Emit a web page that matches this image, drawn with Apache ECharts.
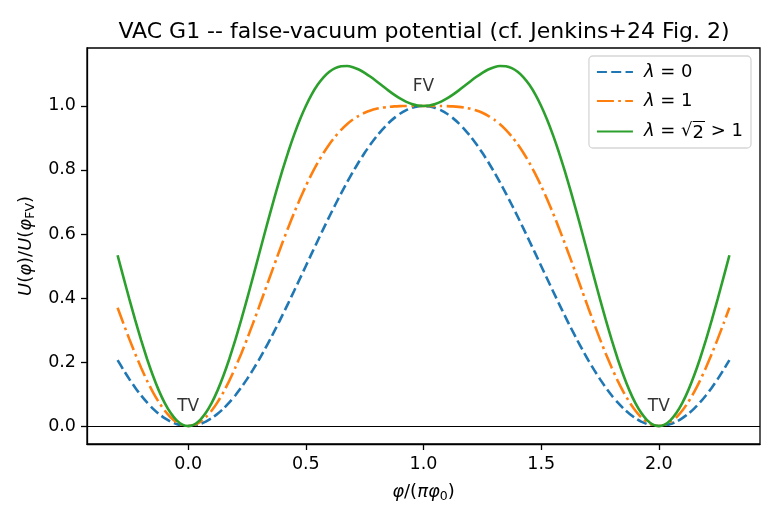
<!DOCTYPE html>
<html>
<head>
<meta charset="utf-8">
<script src="https://cdn.jsdelivr.net/npm/echarts@6/dist/echarts.min.js"></script>
<style>html,body{margin:0;padding:0;background:#fff}#c{width:780px;height:520px}</style>
</head>
<body>
<div id="c"></div>
<script>
// x = phi / (pi * phi0)
const xs = [-0.300,-0.275,-0.250,-0.225,-0.200,-0.175,-0.150,-0.125,-0.100,-0.075,-0.050,-0.025,
  0.000,0.025,0.050,0.075,0.100,0.125,0.150,0.175,0.200,0.225,0.250,0.275,0.300,0.325,0.350,0.375,0.400,0.425,0.450,0.475,
  0.500,0.525,0.550,0.575,0.600,0.625,0.650,0.675,0.700,0.725,0.750,0.775,0.800,0.825,0.850,0.875,0.900,0.925,0.950,0.975,1.000,
  1.025,1.050,1.075,1.100,1.125,1.150,1.175,1.200,1.225,1.250,1.275,1.300,1.325,1.350,1.375,1.400,1.425,1.450,1.475,1.500,
  1.525,1.550,1.575,1.600,1.625,1.650,1.675,1.700,1.725,1.750,1.775,1.800,1.825,1.850,1.875,1.900,1.925,1.950,1.975,2.000,
  2.025,2.050,2.075,2.100,2.125,2.150,2.175,2.200,2.225,2.250,2.275,2.300];
const lam0 = [0.2061,0.1753,0.1464,0.1198,0.0955,0.0737,0.0545,0.0381,0.0245,0.0138,0.0062,0.0015,
  0,0.0015,0.0062,0.0138,0.0245,0.0381,0.0545,0.0737,0.0955,0.1198,0.1464,0.1753,0.2061,0.2388,0.2730,0.3087,0.3455,0.3833,0.4218,0.4608,
  0.5,0.5392,0.5782,0.6167,0.6545,0.6913,0.7270,0.7613,0.7939,0.8247,0.8536,0.8802,0.9045,0.9263,0.9455,0.9619,0.9755,0.9862,0.9938,0.9985,1.0,
  0.9985,0.9938,0.9862,0.9755,0.9619,0.9455,0.9263,0.9045,0.8802,0.8536,0.8247,0.7939,0.7613,0.7270,0.6913,0.6545,0.6167,0.5782,0.5392,0.5,
  0.4608,0.4218,0.3833,0.3455,0.3087,0.2730,0.2388,0.2061,0.1753,0.1464,0.1198,0.0955,0.0737,0.0545,0.0381,0.0245,0.0138,0.0062,0.0015,0,
  0.0015,0.0062,0.0138,0.0245,0.0381,0.0545,0.0737,0.0955,0.1198,0.1464,0.1753,0.2061];
const lam1 = [0.3697,0.3198,0.2714,0.2253,0.1819,0.1419,0.1060,0.0747,0.0483,0.0274,0.0123,0.0031,
  0,0.0031,0.0123,0.0274,0.0483,0.0747,0.1060,0.1419,0.1819,0.2253,0.2714,0.3198,0.3697,0.4205,0.4715,0.5221,0.5716,0.6197,0.6657,0.7092,
  0.75,0.7877,0.8221,0.8531,0.8806,0.9047,0.9255,0.9430,0.9575,0.9693,0.9786,0.9857,0.9909,0.9946,0.9970,0.9986,0.9994,0.9998,1.0,1.0,1.0,
  1.0,1.0,0.9998,0.9994,0.9986,0.9970,0.9946,0.9909,0.9857,0.9786,0.9693,0.9575,0.9430,0.9255,0.9047,0.8806,0.8531,0.8221,0.7877,0.75,
  0.7092,0.6657,0.6197,0.5716,0.5221,0.4715,0.4205,0.3697,0.3198,0.2714,0.2253,0.1819,0.1419,0.1060,0.0747,0.0483,0.0274,0.0123,0.0031,0,
  0.0031,0.0123,0.0274,0.0483,0.0747,0.1060,0.1419,0.1819,0.2253,0.2714,0.3198,0.3697];
const lamR2 = [0.5334,0.4644,0.3964,0.3307,0.2682,0.2102,0.1576,0.1113,0.0722,0.0411,0.0184,0.0046,
  0,0.0046,0.0184,0.0411,0.0722,0.1113,0.1576,0.2102,0.2682,0.3307,0.3964,0.4644,0.5334,0.6023,0.6700,0.7354,0.7978,0.8560,0.9096,0.9577,
  1.0,1.0362,1.0660,1.0895,1.1068,1.1181,1.1240,1.1248,1.1212,1.1138,1.1036,1.0911,1.0773,1.0628,1.0486,1.0352,1.0233,1.0134,1.0061,1.0015,1.0,
  1.0015,1.0061,1.0134,1.0233,1.0352,1.0486,1.0628,1.0773,1.0911,1.1036,1.1138,1.1212,1.1248,1.1240,1.1181,1.1068,1.0895,1.0660,1.0362,1.0,
  0.9577,0.9096,0.8560,0.7978,0.7354,0.6700,0.6023,0.5334,0.4644,0.3964,0.3307,0.2682,0.2102,0.1576,0.1113,0.0722,0.0411,0.0184,0.0046,0,
  0.0046,0.0184,0.0411,0.0722,0.1113,0.1576,0.2102,0.2682,0.3307,0.3964,0.4644,0.5334];
const seriesNames = ['λ = 0', 'λ = 1', 'λ = √2 > 1'];
const legendRich = ['{i|λ} = 0', '{i|λ} = 1', '{i|λ} = √{o|2} > 1'];
const xTicks = [0.0, 0.5, 1.0, 1.5, 2.0];
const yTicks = [0.0, 0.2, 0.4, 0.6, 0.8, 1.0];
const annotations = [
  {x: 0.0, y: 0.062, text: 'TV'},
  {x: 2.0, y: 0.062, text: 'TV'},
  {x: 1.0, y: 1.062, text: 'FV'}
];

const pts = ys => xs.map((x, i) => [x, ys[i]]);
const FONT = 'DejaVu Sans';

// small image used as an overline above the radicand
const ov = document.createElement('canvas');
ov.width = 20; ov.height = 40;
const octx = ov.getContext('2d');
octx.fillStyle = '#000';
octx.fillRect(0, 0, 20, 2);

const chart = echarts.init(document.getElementById('c'), null, {renderer: 'canvas'});
chart.setOption({
  animation: false,
  backgroundColor: '#fff',
  title: {
    text: 'VAC G1 -- false-vacuum potential (cf. Jenkins+24 Fig. 2)',
    left: 419, top: 16, textAlign: 'center',
    textStyle: {fontFamily: FONT, fontSize: 22, fontWeight: 'normal', color: '#000'}
  },
  grid: {left: 87, right: 20, top: 48, bottom: 76, show: true, borderColor: '#000', borderWidth: 1.3, backgroundColor: 'transparent'},
  legend: {
    right: 29, top: 56, orient: 'vertical',
    itemWidth: 36, itemHeight: 14, itemGap: 11,
    padding: [7, 8, 6, 7],
    backgroundColor: 'rgba(255,255,255,0.85)', borderColor: '#d6d6d6', borderWidth: 1.3, borderRadius: 4,
    itemStyle: {opacity: 0},
    formatter: name => legendRich[seriesNames.indexOf(name)],
    textStyle: {
      fontFamily: FONT, fontSize: 18, color: '#000', padding: [0, 0, 0, 6],
      rich: {
        i: {fontFamily: FONT, fontSize: 18, fontStyle: 'italic', color: '#000'},
        o: {fontFamily: FONT, fontSize: 18, color: '#000', padding: [3, 1, 0, 0], backgroundColor: {image: ov}}
      }
    },
    data: seriesNames
  },
  xAxis: {
    type: 'value', min: -0.43, max: 2.43,
    name: '{i|φ}/({i|πφ}{s|0})', nameLocation: 'middle', nameGap: 38,
    nameTextStyle: {
      fontFamily: FONT, fontSize: 18, color: '#000',
      rich: {
        i: {fontFamily: FONT, fontSize: 18, fontStyle: 'italic', color: '#000'},
        s: {fontFamily: FONT, fontSize: 12.5, color: '#000', verticalAlign: 'bottom', padding: [8, 0, 0, 0]}
      }
    },
    axisLine: {show: true, onZero: false, lineStyle: {color: '#000', width: 1.3}},
    axisTick: {show: true, length: 6, customValues: xTicks, lineStyle: {color: '#000', width: 1.3}},
    axisLabel: {customValues: xTicks, formatter: v => v.toFixed(1), fontFamily: FONT, fontSize: 17.5, color: '#000', margin: 11},
    splitLine: {show: false}
  },
  yAxis: {
    type: 'value', min: -0.0562, max: 1.181,
    name: '{i|U}({i|φ})/{i|U}({i|φ}{s|FV})', nameLocation: 'middle', nameGap: 46, nameRotate: 90,
    nameTextStyle: {
      fontFamily: FONT, fontSize: 18, color: '#000',
      rich: {
        i: {fontFamily: FONT, fontSize: 18, fontStyle: 'italic', color: '#000'},
        s: {fontFamily: FONT, fontSize: 12.5, color: '#000', verticalAlign: 'bottom', padding: [8, 0, 0, 0]}
      }
    },
    axisLine: {show: true, onZero: false, lineStyle: {color: '#000', width: 1.3}},
    axisTick: {show: true, length: 6, customValues: yTicks, lineStyle: {color: '#000', width: 1.3}},
    axisLabel: {customValues: yTicks, formatter: v => v.toFixed(1), fontFamily: FONT, fontSize: 17.5, color: '#000', margin: 11},
    splitLine: {show: false}
  },
  series: [
    {
      name: seriesNames[0], type: 'line', data: pts(lam0), smooth: 0.2, symbol: 'none',
      lineStyle: {color: '#1f77b4', width: 2.6, type: [10, 4.3], cap: 'butt'}, itemStyle: {color: '#1f77b4'},
      markLine: {
        silent: true, symbol: 'none', label: {show: false},
        lineStyle: {color: '#000', width: 1.1, type: 'solid'},
        data: [{yAxis: 0}]
      },
      z: 3
    },
    {
      name: seriesNames[1], type: 'line', data: pts(lam1), smooth: 0.2, symbol: 'none',
      lineStyle: {color: '#ff7f0e', width: 2.6, type: [17, 4.3, 2.7, 4.3], cap: 'butt'}, itemStyle: {color: '#ff7f0e'},
      z: 4
    },
    {
      name: seriesNames[2], type: 'line', data: pts(lamR2), smooth: 0.2, symbol: 'none',
      lineStyle: {color: '#2ca02c', width: 2.6, type: 'solid'}, itemStyle: {color: '#2ca02c'},
      z: 5
    },
    {
      type: 'scatter', symbolSize: 0, silent: true, z: 6,
      data: annotations.map(a => ({value: [a.x, a.y], name: a.text})),
      label: {show: true, position: 'inside', formatter: p => p.name, fontFamily: FONT, fontSize: 17, color: '#000'}
    }
  ]
});
</script>
</body>
</html>
